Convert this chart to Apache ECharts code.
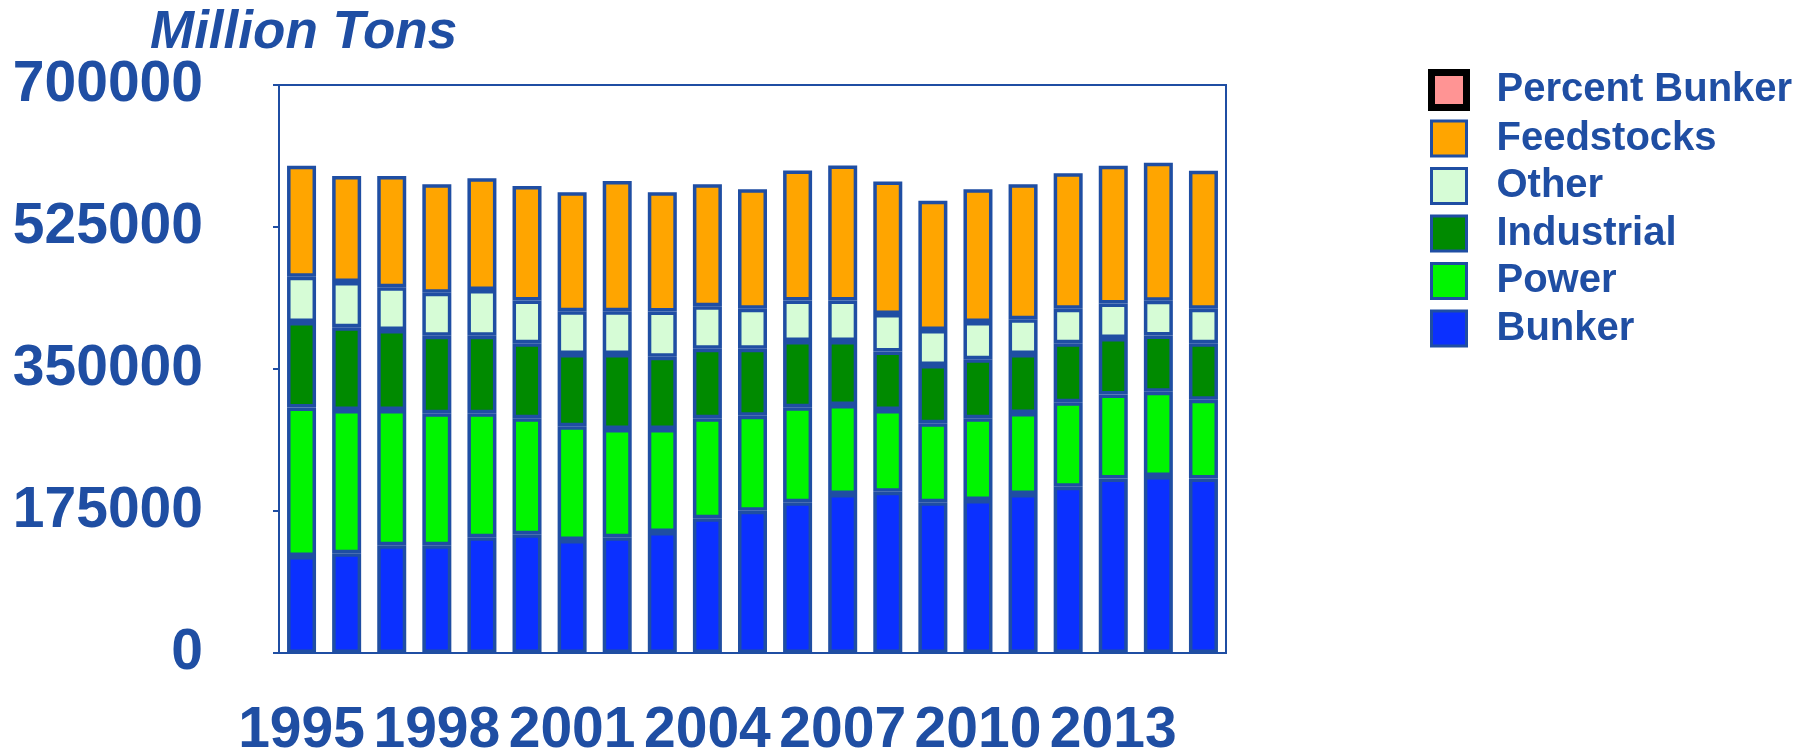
<!DOCTYPE html>
<html>
<head>
<meta charset="utf-8">
<title>Million Tons</title>
<script src="https://cdn.jsdelivr.net/npm/echarts@6/dist/echarts.min.js"></script>
<style>
  html, body { margin: 0; padding: 0; background: #ffffff; }
  #chart { width: 1806px; height: 752px; }
</style>
</head>
<body>
<div id="chart"></div>
<script>
// Years on the category axis
const years = ['1995','1996','1997','1998','1999','2000','2001','2002','2003','2004','2005',
               '2006','2007','2008','2009','2010','2011','2012','2013','2014','2015'];

// Consumption by sector, stacked bottom to top
const bunker     = [119500,122800,132700,132700,142600,146300,139300,142600,149100,166000,175400,
                    185700,196000,198800,185700,188600,196000,205000,215200,218100,215200];
const power      = [183200,176600,166800,162700,152800,143000,140100,133500,126900,123300,117100,
                    117100,109700,100600,97400,100600,99800,103900,103500,103900,97000];
const industrial = [105200,101900,98600,95700,95700,92400,89100,92400,89100,85800,82600,
                    81800,78900,72300,71900,72700,72700,72700,69400,69400,69400];
const other      = [55900,55900,52600,53000,56300,52600,52600,52600,55900,52200,49300,
                    49700,49700,46000,43100,46000,42700,42700,42700,42700,42700];
const feedstocks = [136800,130600,137200,133500,137600,141300,146700,160600,146700,150400,147100,
                    160200,166400,163500,159400,163500,166400,166800,169700,170100,170100];
const percentBunker = [];

// Value axis ticks
const yMin = 0;
const yMax = 700000;
const yStep = 175000;

const BLUE = '#1f4ea3';
const FONT = '"Liberation Sans", Arial, sans-serif';

function barSeries(name, data, color) {
  return {
    name: name,
    type: 'bar',
    stack: 'total',
    data: data,
    barWidth: 29,
    itemStyle: { color: color, borderColor: BLUE, borderWidth: 3.5 },
    emphasis: { disabled: true }
  };
}

const chart = echarts.init(document.getElementById('chart'), null, { renderer: 'canvas' });

chart.setOption({
  animation: false,
  backgroundColor: '#ffffff',
  title: {
    text: 'Million Tons',
    left: 150,
    top: 7,
    padding: 0,
    textStyle: { color: BLUE, fontFamily: FONT, fontSize: 53, fontWeight: 'bold', fontStyle: 'italic' }
  },
  legend: {
    orient: 'vertical',
    left: 1428,
    top: 69,
    padding: 0,
    itemWidth: 35,
    itemHeight: 35,
    itemGap: 7.5,
    icon: 'rect',
    selectedMode: false,
    itemStyle: { borderWidth: 3, borderColor: BLUE },
    textStyle: {
      color: BLUE, fontFamily: FONT, fontSize: 40, fontWeight: 'bold',
      lineHeight: 35, padding: [0, 0, 0, 25]
    },
    data: [
      { name: 'Percent Bunker', itemStyle: { color: '#ff9494', borderColor: '#000000', borderWidth: 7 } },
      'Feedstocks', 'Other', 'Industrial', 'Power', 'Bunker'
    ]
  },
  grid: {
    left: 279,
    right: 580,
    top: 85,
    bottom: 99,
    show: true,
    borderColor: BLUE,
    borderWidth: 2,
    backgroundColor: 'transparent',
    containLabel: false,
    outerBoundsMode: 'none'
  },
  xAxis: {
    type: 'category',
    data: years,
    axisLine: { show: true, lineStyle: { color: BLUE, width: 2 } },
    axisTick: { show: false },
    axisLabel: {
      interval: 2,
      margin: 50,
      color: BLUE,
      fontFamily: FONT,
      fontSize: 57,
      fontWeight: 'bold'
    },
    splitLine: { show: false }
  },
  yAxis: {
    type: 'value',
    min: yMin,
    max: yMax,
    interval: yStep,
    axisLine: { show: true, lineStyle: { color: BLUE, width: 2 } },
    axisTick: { show: true, inside: false, length: 6, lineStyle: { color: BLUE, width: 2 } },
    axisLabel: {
      margin: 76,
      color: BLUE,
      fontFamily: FONT,
      fontSize: 57,
      fontWeight: 'bold',
      formatter: function (v) { return String(v); }
    },
    splitLine: { show: false }
  },
  series: [
    barSeries('Bunker', bunker, '#0b30ff'),
    barSeries('Power', power, '#00f500'),
    barSeries('Industrial', industrial, '#008a00'),
    barSeries('Other', other, '#d6fcd6'),
    barSeries('Feedstocks', feedstocks, '#ffa500'),
    {
      name: 'Percent Bunker',
      type: 'bar',
      stack: 'total',
      data: percentBunker,
      itemStyle: { color: '#ff9494', borderColor: '#000000', borderWidth: 7 }
    }
  ]
});
</script>
</body>
</html>
